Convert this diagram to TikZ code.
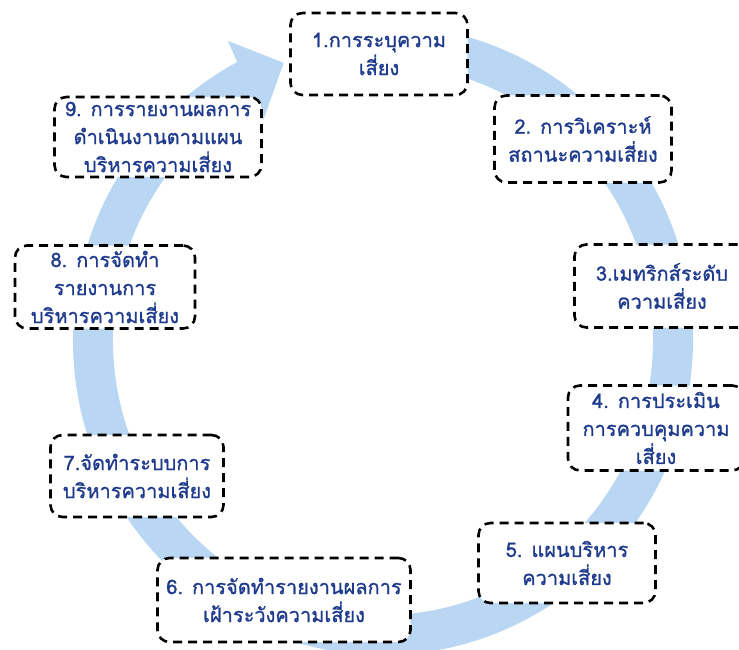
\documentclass[tikz,border=0pt]{standalone}
\usepackage{fontspec}
\newfontfamily\thaifont[Script=Thai, FakeBold=1]{Loma}
\usetikzlibrary{arrows.meta, bending, calc}

\definecolor{riskblue}{RGB}{30,58,140}
\definecolor{bandblue}{RGB}{185,215,243}

\begin{document}
\begin{tikzpicture}[
    x=1pt, y=-1pt,
    stepbox/.style={draw, line width=2.6pt, dash pattern=on 9pt off 6pt,
        rounded corners=12pt, fill=white, align=center, text=riskblue,
        font=\thaifont\fontsize{20}{28}\selectfont, inner sep=0pt},
    band/.style={line width=40pt, bandblue,
        -{Triangle[length=42pt, width=84pt]}}
]

    % 0. Bounding box
    \useasboundingbox (0,0) rectangle (739,650);

    % 1. Centre of the cycle and start of the band
    \coordinate (O) at (383,340);
    \coordinate (S) at ($(O)+(-85:290 and 295)$);

    % 2. The circular arrow behind the boxes
    \draw[band] (S) arc[start angle=-85, end angle=250,
        x radius=290, y radius=295];

    % 3. The nine steps
    \node[stepbox, minimum width=177, minimum height=82] (s1) at (379,54)
        {1.การระบุความ\\เสี่ยง};
    \node[stepbox, minimum width=177, minimum height=87] (s2) at (583,139)
        {2. การวิเคราะห์\\สถานะความเสี่ยง};
    \node[stepbox, minimum width=175, minimum height=83] (s3) at (662,286)
        {3.เมทริกส์ระดับ\\ความเสี่ยง};
    \node[stepbox, minimum width=176, minimum height=85] (s4) at (656,428)
        {4. การประเมิน\\การควบคุมความ\\เสี่ยง};
    \node[stepbox, minimum width=177, minimum height=80] (s5) at (567,563)
        {5. แผนบริหาร\\ความเสี่ยง};
    \node[stepbox, minimum width=253, minimum height=84] (s6) at (284,600)
        {6. การจัดทำรายงานผลการ\\เฝ้าระวังความเสี่ยง};
    \node[stepbox, minimum width=173, minimum height=82] (s7) at (137,476)
        {7.จัดทำระบบการ\\บริหารความเสี่ยง};
    \node[stepbox, minimum width=180, minimum height=83] (s8) at (105,287)
        {8. การจัดทำ\\รายงานการ\\บริหารความเสี่ยง};
    \node[stepbox, minimum width=207, minimum height=80] (s9) at (158,137)
        {9. การรายงานผลการ\\ดำเนินงานตามแผน\\บริหารความเสี่ยง};

\end{tikzpicture}
\end{document}
